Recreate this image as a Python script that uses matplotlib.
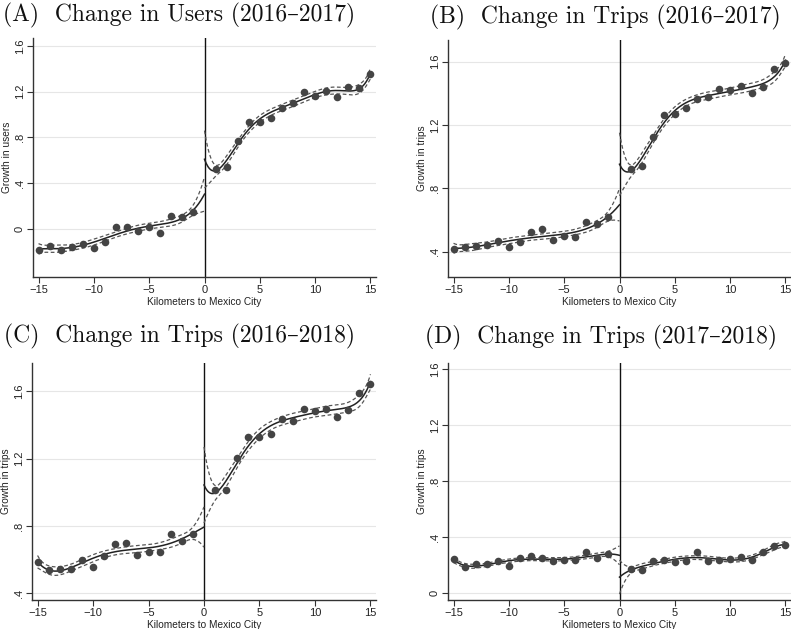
import numpy as np
import matplotlib.pyplot as plt

plt.rcParams['font.family'] = ['Liberation Sans', 'DejaVu Sans']

# binned means, km to Mexico City (no bin at 0)
km = np.array(list(range(-15, 0)) + list(range(1, 16)))

users_1617 = [-0.185, -0.15, -0.18, -0.155, -0.13, -0.167, -0.11, 0.02, 0.018, -0.015,
              0.015, -0.035, 0.117, 0.108, 0.152,
              0.527, 0.545, 0.768, 0.935, 0.935, 0.973, 1.06, 1.10, 1.196, 1.16,
              1.21, 1.152, 1.245, 1.23, 1.357]
trips_1617 = [0.417, 0.43, 0.436, 0.442, 0.469, 0.432, 0.459, 0.526, 0.541, 0.472,
              0.497, 0.49, 0.587, 0.575, 0.619,
              0.924, 0.943, 1.124, 1.263, 1.272, 1.309, 1.366, 1.375, 1.429, 1.421,
              1.444, 1.404, 1.438, 1.552, 1.594]
trips_1618 = [0.584, 0.539, 0.547, 0.547, 0.596, 0.556, 0.624, 0.691, 0.699, 0.628,
              0.648, 0.648, 0.754, 0.709, 0.754,
              1.014, 1.014, 1.202, 1.331, 1.329, 1.347, 1.434, 1.426, 1.495, 1.483,
              1.497, 1.450, 1.489, 1.588, 1.642]
trips_1718 = [0.243, 0.186, 0.207, 0.207, 0.229, 0.195, 0.25, 0.264, 0.25, 0.233,
              0.236, 0.236, 0.293, 0.255, 0.283,
              0.171, 0.169, 0.233, 0.24, 0.224, 0.233, 0.293, 0.233, 0.236, 0.245,
              0.257, 0.236, 0.295, 0.336, 0.345]

titles = ["(A)  Change in Users (2016\u20132017)",
          "(B)  Change in Trips (2016\u20132017)",
          "(C)  Change in Trips (2016\u20132018)",
          "(D)  Change in Trips (2017\u20132018)"]
ylabels = ["Growth in users", "Growth in trips", "Growth in trips", "Growth in trips"]
series = [users_1617, trips_1617, trips_1618, trips_1718]
yticks = [[0, 0.4, 0.8, 1.2, 1.6], [0.4, 0.8, 1.2, 1.6], [0.4, 0.8, 1.2, 1.6],
          [0, 0.4, 0.8, 1.2, 1.6]]
ytick_labels = {0: "0", 0.4: ".4", 0.8: ".8", 1.2: "1.2", 1.6: "1.6"}
ylims = [(-0.42, 1.67), (0.24, 1.737), (0.36, 1.768), (-0.048, 1.645)]

# axes boxes in pixels: left, bottom(from top), right, top(from top)
W, H = 791, 629
boxes = [(33, 277, 376, 38), (448, 277, 791, 40), (32, 600, 376, 363), (448, 600, 791, 363)]
title_pos = [(3, 15), (430, 17), (4, 336), (425, 337)]

DEG_LEFT = 5
DEG_RIGHT = 6
Z = 1.0


def poly_fit(x, y, deg, grid):
    X = np.vander(x / 15.0, deg + 1)
    beta, *_ = np.linalg.lstsq(X, y, rcond=None)
    resid = y - X @ beta
    s2 = resid @ resid / (len(x) - deg - 1)
    cov = s2 * np.linalg.inv(X.T @ X)
    G = np.vander(grid / 15.0, deg + 1)
    fit = G @ beta
    se = np.sqrt(np.einsum('ij,jk,ik->i', G, cov, G))
    return fit, fit - Z * se, fit + Z * se


fig = plt.figure(figsize=(W / 100, H / 100), dpi=100)

for i in range(4):
    l, b, r, t = boxes[i]
    ax = fig.add_axes([l / W, 1 - b / H, (r - l) / W, (b - t) / H])
    y = np.array(series[i])

    for side in (km < 0, km > 0):
        xs = km[side].astype(float)
        ys = y[side]
        if xs[0] < 0:
            grid = np.linspace(-15, 0, 200)
            deg = DEG_LEFT
        else:
            grid = np.linspace(0, 15, 200)
            deg = DEG_RIGHT
        fit, lo, hi = poly_fit(xs, ys, deg, grid)
        ax.plot(grid, fit, color='#222222', lw=1.1, zorder=3)
        ax.plot(grid, lo, color='#555555', lw=0.9, ls=(0, (3, 2)), zorder=3)
        ax.plot(grid, hi, color='#555555', lw=0.9, ls=(0, (3, 2)), zorder=3)

    ax.scatter(km, y, s=30, color='#444444', zorder=4, linewidths=0)
    ax.axvline(0, color='#111111', lw=1.0, zorder=2)

    ax.set_xlim(-15.5, 15.5)
    ax.set_ylim(*ylims[i])
    ax.set_xticks([-15, -10, -5, 0, 5, 10, 15])
    ax.set_xticklabels(["\u221215", "\u221210", "\u22125", "0", "5", "10", "15"])
    ax.set_yticks(yticks[i])
    ax.set_yticklabels([ytick_labels[v] for v in yticks[i]], rotation=90, va='center')
    ax.grid(axis='y', color='#e6e6e6', lw=0.8, zorder=0)
    ax.set_axisbelow(True)
    for s in ('top', 'right'):
        ax.spines[s].set_visible(False)
    for s in ('left', 'bottom'):
        ax.spines[s].set_color('#333333')
        ax.spines[s].set_linewidth(1.0)
    ax.tick_params(labelsize=8, length=4, color='#333333', labelcolor='#222222', pad=2)
    ax.set_xlabel("Kilometers to Mexico City", fontsize=7.3, labelpad=1, color='#222222')
    ax.set_ylabel(ylabels[i], fontsize=7.3, labelpad=2, color='#222222')

    tx, ty = title_pos[i]
    fig.text(tx / W, 1 - ty / H, titles[i], fontsize=17, va='center', ha='left',
             family=['cmr10', 'DejaVu Serif'], color='#111111')

fig.savefig("out.png", dpi=100)
